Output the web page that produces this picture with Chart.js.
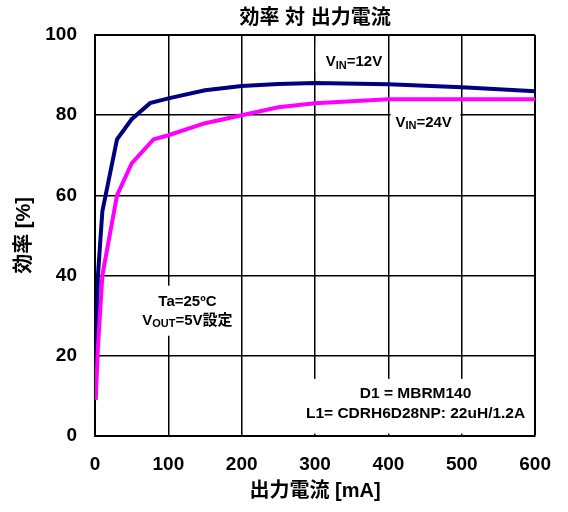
<!DOCTYPE html>
<html><head><meta charset="utf-8">
<script src="https://cdn.jsdelivr.net/npm/chart.js@4"></script>
<style>html,body{margin:0;padding:0;background:#fff}#wrap{width:568px;height:512px}</style>
</head><body><div id="wrap"><canvas id="c" width="568" height="512"></canvas></div>
<script>
// ---- data ----
const current12 = [1, 4, 10, 30, 50, 75, 100, 150, 200, 250, 300, 400, 500, 600];
const eff12     = [18, 40, 56, 74, 79, 83, 84.2, 86.2, 87.3, 87.8, 88, 87.7, 87, 86];
const current24 = [1, 4, 10, 30, 50, 80, 100, 150, 200, 250, 300, 400, 500, 600];
const eff24     = [9, 22, 40, 60, 68, 74, 75, 78, 80, 82, 83, 84, 84, 84];
const xTicks = [0, 100, 200, 300, 400, 500, 600];
const yTicks = [0, 20, 40, 60, 80, 100];
const titleText = '効率 対 出力電流';
const xTitle = '出力電流 [mA]';
const yTitle = '効率 [%]';

const FONT = '"Liberation Sans", Arial, "Noto Sans CJK JP", sans-serif';

// annotation boxes (data coordinates: x in mA, y in %)
const notes = [
  {box:[301, 399, 97.5, 90.5], lines:[{x:353, y:92.25, runs:[['V',15],['IN',11,2.5],['=12V',15]]}]},
  {box:[403, 498, 80.5, 74], lines:[{x:448, y:77.1, runs:[['V',15],['IN',11,2.5],['=24V',15]]}]},
  {box:[58, 194, 37.5, 25], lines:[
     {x:126, y:32.5, runs:[['Ta=25ºC',15]]},
     {x:126, y:27.7, runs:[['V',15],['OUT',11,2.5],['=5V設定',15]]}]},
  {box:[281, 595, 14.25, 0.6], lines:[
     {x:437, y:9.6, runs:[['D1 = MBRM140',15.5]]},
     {x:437, y:4.6, runs:[['L1= CDRH6D28NP: 22uH/1.2A',15.5]]}]}
];

const notePlugin = {
  id:'notes',
  beforeDatasetsDraw(chart){
    const ctx = chart.ctx, xs = chart.scales.x, ys = chart.scales.y;
    ctx.save();
    notes.forEach(n=>{
      const x0 = xs.getPixelForValue(n.box[0]), x1 = xs.getPixelForValue(n.box[1]);
      const y0 = ys.getPixelForValue(n.box[2]), y1 = ys.getPixelForValue(n.box[3]);
      ctx.fillStyle = '#fff';
      ctx.fillRect(x0, y0, x1-x0, y1-y0);
      n.lines.forEach(l=>{
        let total = 0;
        l.runs.forEach(r=>{ ctx.font = 'bold '+r[1]+'px '+FONT; total += ctx.measureText(r[0]).width; });
        let px = xs.getPixelForValue(l.x) - total/2;
        const py = ys.getPixelForValue(l.y);
        ctx.fillStyle = '#000';
        ctx.textAlign = 'left';
        ctx.textBaseline = 'alphabetic';
        l.runs.forEach(r=>{
          ctx.font = 'bold '+r[1]+'px '+FONT;
          ctx.fillText(r[0], px, py + (r[2]||0));
          px += ctx.measureText(r[0]).width;
        });
      });
    });
    ctx.restore();
  }
};

new Chart(document.getElementById('c'), {
  type:'line',
  data:{datasets:[
    {label:'VIN=24V', data: current24.map((x,i)=>({x, y:eff24[i]})), borderColor:'#FF00FF', borderWidth:4, pointRadius:0, tension:0, fill:false},
    {label:'VIN=12V', data: current12.map((x,i)=>({x, y:eff12[i]})), borderColor:'#000080', borderWidth:4, pointRadius:0, tension:0, fill:false}
  ]},
  options:{
    responsive:false, animation:false, devicePixelRatio:1,
    layout:{padding:{left:0, right:30, top:0, bottom:0}},
    plugins:{
      legend:{display:false}, tooltip:{enabled:false},
      title:{display:true, text:titleText, color:'#000', fullSize:false,
        font:{family:FONT, size:20, weight:'bold'}, padding:{top:6, bottom:5}}
    },
    scales:{
      x:{type:'linear', min:0, max:600,
        afterBuildTicks:s=>{ s.ticks = xTicks.map(v=>({value:v})); },
        afterFit:s=>{ s.height = 76; },
        ticks:{color:'#000', font:{family:FONT, size:19, weight:'bold'}, padding:17, maxRotation:0, autoSkip:false},
        grid:{color:'#000', drawTicks:false, lineWidth:c=> c.tick && c.tick.value===600 ? 2 : 1.5},
        border:{color:'#000', width:2},
        title:{display:true, text:xTitle, color:'#000', font:{family:FONT, size:20, weight:'bold'}, padding:{top:0, bottom:8.5}}
      },
      y:{type:'linear', min:0, max:100,
        afterBuildTicks:s=>{ s.ticks = yTicks.map(v=>({value:v})); },
        afterFit:s=>{ s.width = 95; },
        ticks:{color:'#000', font:{family:FONT, size:19, weight:'bold'}, padding:18, autoSkip:false},
        grid:{color:'#000', drawTicks:false, lineWidth:c=> c.tick && c.tick.value===100 ? 2 : 1.5},
        border:{color:'#000', width:2},
        title:{display:true, text:yTitle, color:'#000', font:{family:FONT, size:20, weight:'bold'}, padding:{top:12, bottom:0}}
      }
    }
  },
  plugins:[notePlugin]
});
</script></body></html>
